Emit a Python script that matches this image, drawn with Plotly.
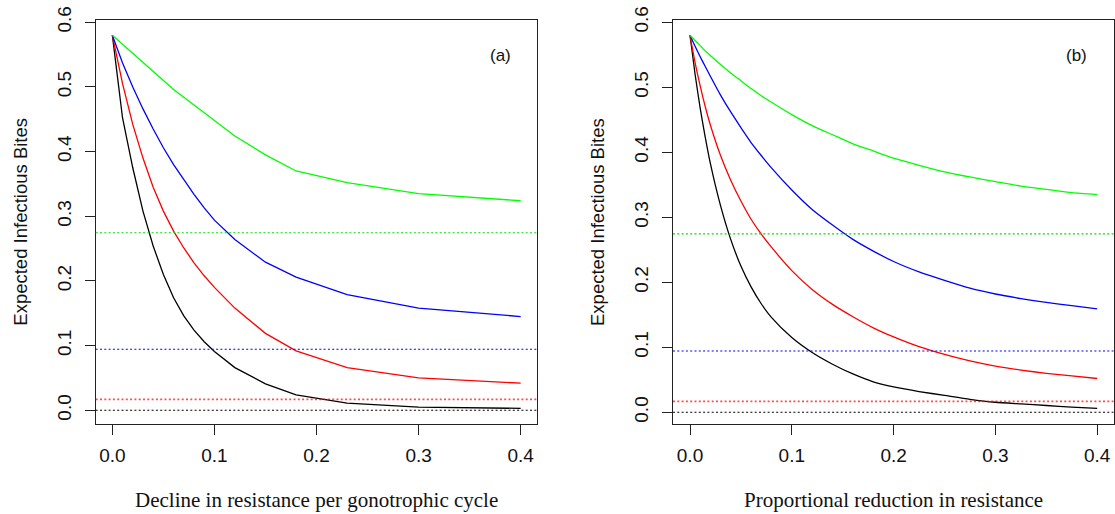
import plotly.graph_objects as go

# ---------------- data ----------------
# Panel (a): decline in resistance per gonotrophic cycle
x_a = [0, 0.005, 0.01, 0.02, 0.03, 0.04, 0.05, 0.06, 0.07, 0.08, 0.09, 0.10,
       0.12, 0.15, 0.18, 0.23, 0.30, 0.40]
black_a = [0.580, 0.512, 0.452, 0.375, 0.308, 0.254, 0.210, 0.174, 0.146, 0.124,
           0.106, 0.091, 0.066, 0.041, 0.024, 0.011, 0.005, 0.003]
red_a = [0.580, 0.541, 0.505, 0.442, 0.390, 0.345, 0.308, 0.277, 0.251, 0.228,
         0.208, 0.190, 0.158, 0.119, 0.092, 0.066, 0.050, 0.042]
blue_a = [0.580, 0.558, 0.537, 0.500, 0.466, 0.435, 0.406, 0.380, 0.356, 0.334,
          0.313, 0.294, 0.264, 0.229, 0.206, 0.179, 0.158, 0.145]
green_a = [0.580, 0.573, 0.566, 0.551, 0.537, 0.523, 0.509, 0.496, 0.484, 0.472,
           0.460, 0.448, 0.424, 0.395, 0.370, 0.352, 0.335, 0.324]

# Panel (b): proportional reduction in resistance
x_b = [0, 0.005, 0.01, 0.015, 0.02, 0.03, 0.04, 0.05, 0.06, 0.07, 0.08, 0.10,
       0.12, 0.14, 0.16, 0.18, 0.20, 0.225, 0.25, 0.275, 0.30, 0.325, 0.35,
       0.375, 0.40]
black_b = [0.580, 0.520, 0.468, 0.423, 0.383, 0.318, 0.266, 0.225, 0.193, 0.167,
           0.146, 0.115, 0.092, 0.074, 0.059, 0.047, 0.039, 0.032, 0.026, 0.020,
           0.0155, 0.013, 0.0105, 0.008, 0.006]
red_b = [0.580, 0.538, 0.502, 0.470, 0.442, 0.395, 0.357, 0.325, 0.297, 0.274,
         0.254, 0.218, 0.189, 0.166, 0.147, 0.130, 0.116, 0.101, 0.089, 0.079,
         0.071, 0.065, 0.060, 0.056, 0.052]
blue_b = [0.580, 0.563, 0.547, 0.532, 0.517, 0.488, 0.462, 0.438, 0.415, 0.395,
          0.376, 0.342, 0.312, 0.288, 0.266, 0.248, 0.232, 0.216, 0.203, 0.191,
          0.182, 0.175, 0.169, 0.164, 0.159]
green_b = [0.580, 0.572, 0.564, 0.556, 0.549, 0.535, 0.522, 0.510, 0.498, 0.487,
           0.477, 0.458, 0.441, 0.427, 0.413, 0.402, 0.391, 0.380, 0.370, 0.362,
           0.355, 0.348, 0.343, 0.338, 0.335]

# reference (dotted) levels
ref_levels = [0.0, 0.0169, 0.0944, 0.2745]
ref_colors = ["#000000", "rgba(255,0,0,0.7)", "#0000ff", "#00e000"]
ref_widths = [1.1, 1.8, 1.1, 1.1]

curve_colors = ["#000000", "#ff0000", "#0000ff", "#00ff00"]

x_ticks = [0.0, 0.1, 0.2, 0.3, 0.4]
x_tick_text = ["0.0", "0.1", "0.2", "0.3", "0.4"]
y_ticks = [0.0, 0.1, 0.2, 0.3, 0.4, 0.5, 0.6]
y_tick_text = ["0.0", "0.1", "0.2", "0.3", "0.4", "0.5", "0.6"]

x_titles = ["Decline in resistance per gonotrophic cycle",
            "Proportional reduction in resistance"]
y_title = "Expected Infectious Bites"
panel_labels = ["(a)", "(b)"]

# ---------------- figure ----------------
W, H = 1115, 514
fig = go.Figure()

panels = [
    (x_a, [black_a, red_a, blue_a, green_a], "x", "y", "linear"),
    (x_b, [black_b, red_b, blue_b, green_b], "x2", "y2", "spline"),
]
for xs, series, xa, ya, shape in panels:
    for ys, col in zip(series, curve_colors):
        line = dict(color=col, width=1.3, shape=shape)
        if shape == "spline":
            line["smoothing"] = 0.6
        fig.add_trace(go.Scatter(x=xs, y=ys, mode="lines", xaxis=xa, yaxis=ya,
                                 line=line, showlegend=False, hoverinfo="skip"))

shapes = []
for xref, yref in [("x domain", "y"), ("x2 domain", "y2")]:
    for lvl, col, w in zip(ref_levels, ref_colors, ref_widths):
        shapes.append(dict(type="line", xref=xref, yref=yref, x0=0, x1=1,
                           y0=lvl, y1=lvl, line=dict(color=col, width=w, dash="2px,2.3px")))

sans = "Liberation Sans, Arial, Helvetica, sans-serif"
serif = "Liberation Serif, Times New Roman, serif"

axis_common = dict(showgrid=False, zeroline=False, showline=True, mirror=True,
                   linecolor="#222", linewidth=1.2, ticks="outside", ticklen=10,
                   tickwidth=1, tickcolor="#222", automargin=False,
                   tickfont=dict(family=sans, size=19, color="#111"))

y_dom = [(H - 423.7) / H, (H - 20.3) / H]
xa_dom = [95.7 / W, 536.7 / W]
xb_dom = [673 / W, 1113.5 / W]

annotations = [
    dict(text=panel_labels[0], x=0.38, y=0.549, xref="x", yref="y", showarrow=False,
         font=dict(family=sans, size=17, color="#111")),
    dict(text=panel_labels[1], x=0.38, y=0.549, xref="x2", yref="y2", showarrow=False,
         font=dict(family=sans, size=17, color="#111")),
]
for dom, ttl in [(xa_dom, x_titles[0]), (xb_dom, x_titles[1])]:
    annotations.append(dict(text=ttl, xref="paper", yref="paper",
                            x=(dom[0] + dom[1]) / 2, y=1 - 500 / H,
                            xanchor="center", yanchor="middle", showarrow=False,
                            font=dict(family=serif, size=21, color="#111")))
    annotations.append(dict(text=y_title, xref="paper", yref="paper",
                            x=dom[0] - 76 / W, y=1 - 222 / H, textangle=-90,
                            xanchor="center", yanchor="middle", showarrow=False,
                            font=dict(family=sans, size=18.5, color="#111")))

fig.update_layout(
    template="none",
    width=W, height=H, margin=dict(l=0, r=0, t=0, b=0, pad=0, autoexpand=False),
    paper_bgcolor="white", plot_bgcolor="white",
    shapes=shapes,
    xaxis=dict(domain=xa_dom, range=[-0.0163, 0.4157], tickvals=x_ticks,
               ticktext=x_tick_text, anchor="y", ticklabelstandoff=4, **axis_common),
    yaxis=dict(domain=y_dom, range=[-0.0207, 0.603], tickvals=y_ticks,
               ticktext=y_tick_text, tickangle=-90, anchor="x", ticklabelstandoff=6,
               **axis_common),
    xaxis2=dict(domain=xb_dom, range=[-0.0167, 0.416], tickvals=x_ticks,
                ticktext=x_tick_text, anchor="y2", ticklabelstandoff=4, **axis_common),
    yaxis2=dict(domain=y_dom, range=[-0.0175, 0.603], tickvals=y_ticks,
                ticktext=y_tick_text, tickangle=-90, anchor="x2", ticklabelstandoff=6,
                **axis_common),
    annotations=annotations,
)

fig.write_html("out.html")
